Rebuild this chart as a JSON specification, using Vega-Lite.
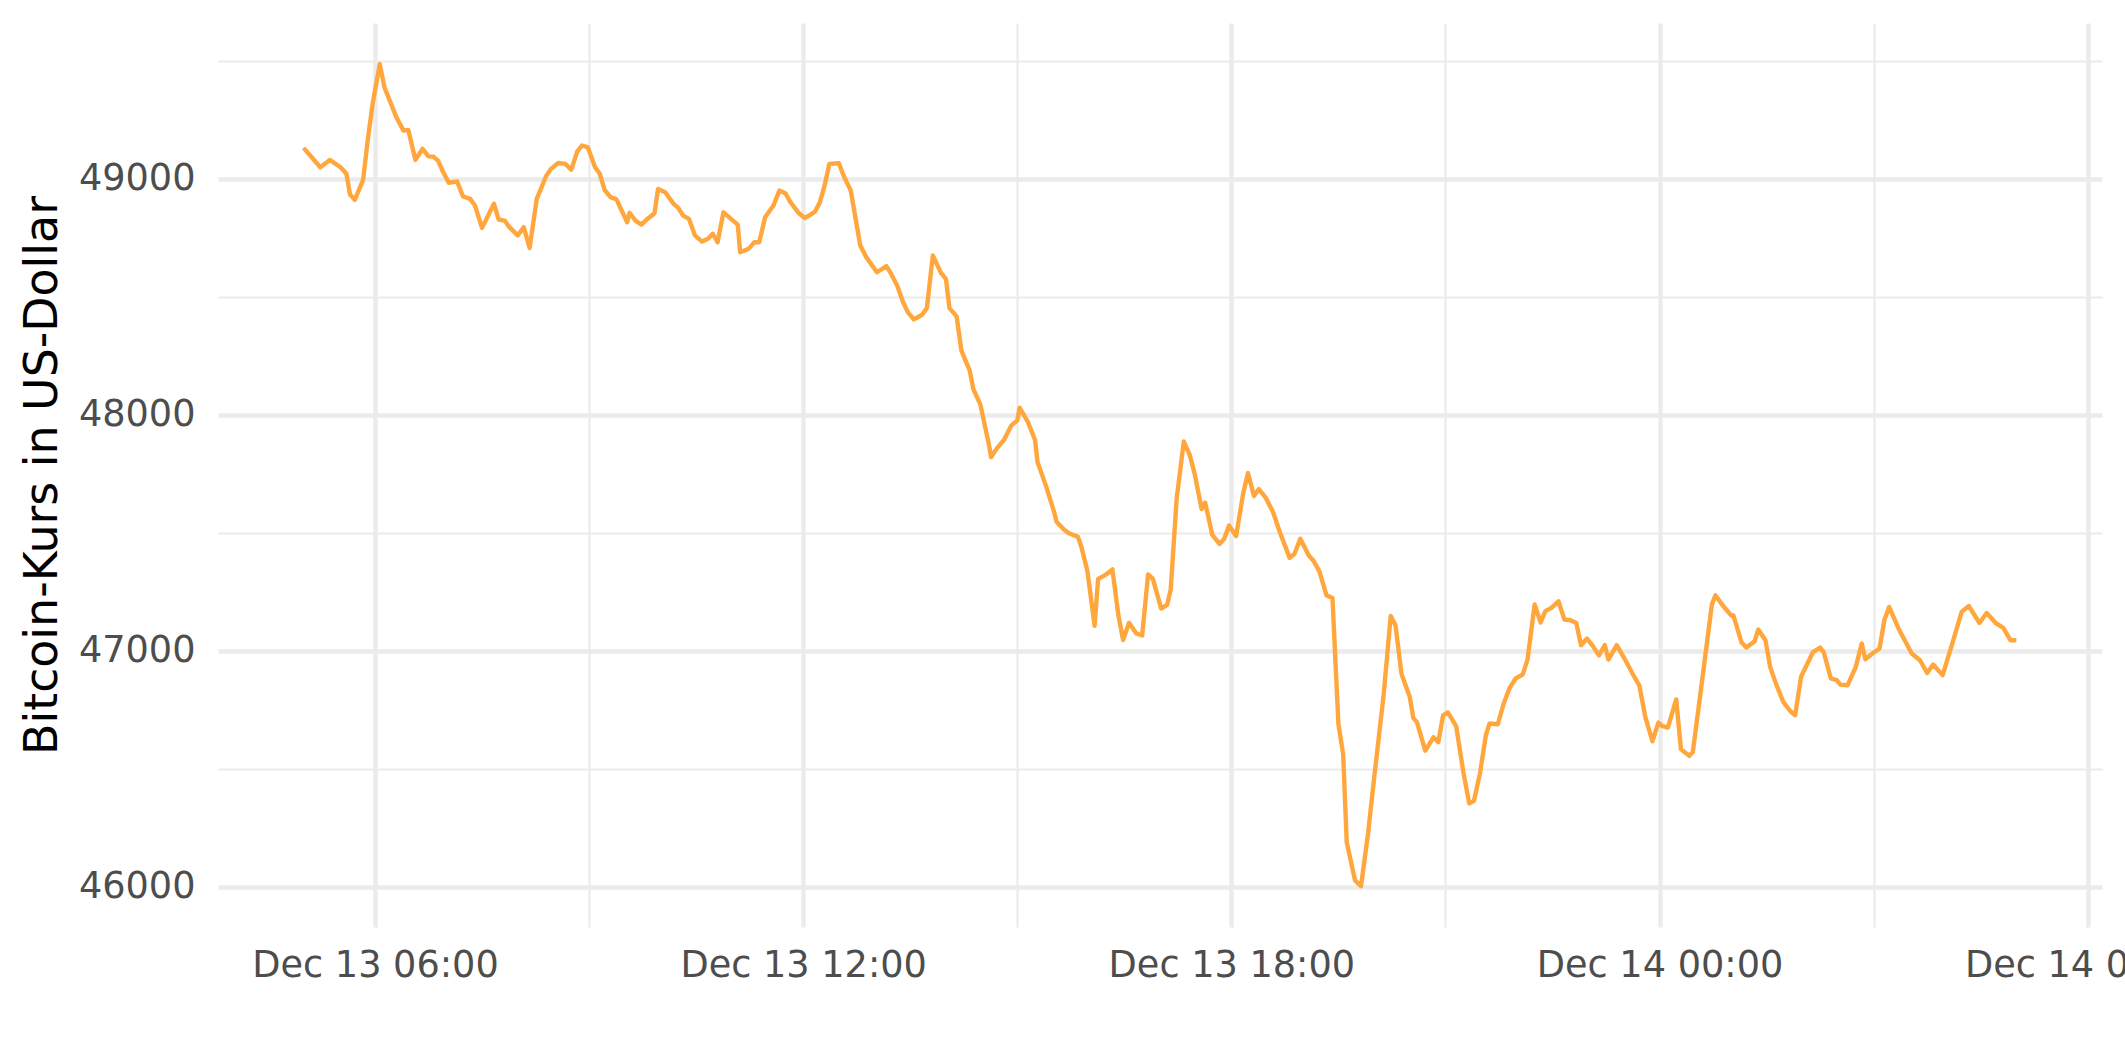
{
  "$schema": "https://vega.github.io/schema/vega-lite/v6.json",
  "width": 1884,
  "height": 904,
  "autosize": {"type": "none"},
  "padding": {"left": 218, "top": 23, "right": 23, "bottom": 135},
  "background": "white",
  "config": {"view": {"stroke": null}, "font": "DejaVu Sans"},
  "data": {"values": [
    {"t": "2021-12-13T05:00", "p": 49131}, {"t": "2021-12-13T05:14", "p": 49049}, {"t": "2021-12-13T05:22", "p": 49080}, {"t": "2021-12-13T05:31", "p": 49049},
    {"t": "2021-12-13T05:36", "p": 49021}, {"t": "2021-12-13T05:39", "p": 48933}, {"t": "2021-12-13T05:43", "p": 48911}, {"t": "2021-12-13T05:50", "p": 48995},
    {"t": "2021-12-13T05:54", "p": 49169}, {"t": "2021-12-13T05:58", "p": 49317}, {"t": "2021-12-13T06:04", "p": 49486}, {"t": "2021-12-13T06:08", "p": 49387},
    {"t": "2021-12-13T06:18", "p": 49260}, {"t": "2021-12-13T06:24", "p": 49204}, {"t": "2021-12-13T06:28", "p": 49207}, {"t": "2021-12-13T06:34", "p": 49080},
    {"t": "2021-12-13T06:40", "p": 49127}, {"t": "2021-12-13T06:45", "p": 49095}, {"t": "2021-12-13T06:49", "p": 49094}, {"t": "2021-12-13T06:53", "p": 49077},
    {"t": "2021-12-13T06:57", "p": 49032}, {"t": "2021-12-13T07:02", "p": 48983}, {"t": "2021-12-13T07:09", "p": 48989}, {"t": "2021-12-13T07:14", "p": 48925},
    {"t": "2021-12-13T07:20", "p": 48915}, {"t": "2021-12-13T07:24", "p": 48887}, {"t": "2021-12-13T07:30", "p": 48792}, {"t": "2021-12-13T07:40", "p": 48894},
    {"t": "2021-12-13T07:44", "p": 48827}, {"t": "2021-12-13T07:49", "p": 48823}, {"t": "2021-12-13T07:53", "p": 48795}, {"t": "2021-12-13T08:00", "p": 48760},
    {"t": "2021-12-13T08:05", "p": 48795}, {"t": "2021-12-13T08:10", "p": 48707}, {"t": "2021-12-13T08:16", "p": 48915}, {"t": "2021-12-13T08:24", "p": 49013},
    {"t": "2021-12-13T08:28", "p": 49042}, {"t": "2021-12-13T08:34", "p": 49067}, {"t": "2021-12-13T08:40", "p": 49063}, {"t": "2021-12-13T08:45", "p": 49038},
    {"t": "2021-12-13T08:50", "p": 49115}, {"t": "2021-12-13T08:54", "p": 49141}, {"t": "2021-12-13T08:59", "p": 49133}, {"t": "2021-12-13T09:05", "p": 49049},
    {"t": "2021-12-13T09:09", "p": 49021}, {"t": "2021-12-13T09:13", "p": 48953}, {"t": "2021-12-13T09:18", "p": 48922}, {"t": "2021-12-13T09:23", "p": 48913},
    {"t": "2021-12-13T09:32", "p": 48816}, {"t": "2021-12-13T09:34", "p": 48856}, {"t": "2021-12-13T09:39", "p": 48823}, {"t": "2021-12-13T09:44", "p": 48806},
    {"t": "2021-12-13T09:49", "p": 48830}, {"t": "2021-12-13T09:55", "p": 48854}, {"t": "2021-12-13T09:58", "p": 48957}, {"t": "2021-12-13T10:04", "p": 48943},
    {"t": "2021-12-13T10:11", "p": 48894}, {"t": "2021-12-13T10:15", "p": 48877}, {"t": "2021-12-13T10:19", "p": 48844}, {"t": "2021-12-13T10:24", "p": 48830},
    {"t": "2021-12-13T10:29", "p": 48760}, {"t": "2021-12-13T10:35", "p": 48734}, {"t": "2021-12-13T10:40", "p": 48746}, {"t": "2021-12-13T10:44", "p": 48767},
    {"t": "2021-12-13T10:48", "p": 48731}, {"t": "2021-12-13T10:53", "p": 48858}, {"t": "2021-12-13T11:00", "p": 48827}, {"t": "2021-12-13T11:05", "p": 48806},
    {"t": "2021-12-13T11:07", "p": 48689}, {"t": "2021-12-13T11:14", "p": 48703}, {"t": "2021-12-13T11:19", "p": 48731}, {"t": "2021-12-13T11:23", "p": 48731},
    {"t": "2021-12-13T11:28", "p": 48837}, {"t": "2021-12-13T11:35", "p": 48887}, {"t": "2021-12-13T11:40", "p": 48950}, {"t": "2021-12-13T11:45", "p": 48939},
    {"t": "2021-12-13T11:49", "p": 48903}, {"t": "2021-12-13T11:56", "p": 48856}, {"t": "2021-12-13T12:01", "p": 48834}, {"t": "2021-12-13T12:04", "p": 48841},
    {"t": "2021-12-13T12:10", "p": 48861}, {"t": "2021-12-13T12:14", "p": 48900}, {"t": "2021-12-13T12:18", "p": 48971}, {"t": "2021-12-13T12:22", "p": 49063},
    {"t": "2021-12-13T12:30", "p": 49066}, {"t": "2021-12-13T12:34", "p": 49013}, {"t": "2021-12-13T12:40", "p": 48950}, {"t": "2021-12-13T12:48", "p": 48717},
    {"t": "2021-12-13T12:53", "p": 48668}, {"t": "2021-12-13T13:02", "p": 48604}, {"t": "2021-12-13T13:10", "p": 48630}, {"t": "2021-12-13T13:14", "p": 48597},
    {"t": "2021-12-13T13:19", "p": 48548}, {"t": "2021-12-13T13:24", "p": 48477}, {"t": "2021-12-13T13:28", "p": 48435}, {"t": "2021-12-13T13:33", "p": 48404},
    {"t": "2021-12-13T13:40", "p": 48424}, {"t": "2021-12-13T13:44", "p": 48452}, {"t": "2021-12-13T13:49", "p": 48675}, {"t": "2021-12-13T13:56", "p": 48600},
    {"t": "2021-12-13T14:00", "p": 48576}, {"t": "2021-12-13T14:03", "p": 48452}, {"t": "2021-12-13T14:09", "p": 48417}, {"t": "2021-12-13T14:13", "p": 48273},
    {"t": "2021-12-13T14:17", "p": 48223}, {"t": "2021-12-13T14:20", "p": 48188}, {"t": "2021-12-13T14:23", "p": 48110}, {"t": "2021-12-13T14:29", "p": 48043},
    {"t": "2021-12-13T14:33", "p": 47948}, {"t": "2021-12-13T14:36", "p": 47878}, {"t": "2021-12-13T14:38", "p": 47821}, {"t": "2021-12-13T14:43", "p": 47859},
    {"t": "2021-12-13T14:49", "p": 47895}, {"t": "2021-12-13T14:55", "p": 47955}, {"t": "2021-12-13T15:00", "p": 47976}, {"t": "2021-12-13T15:02", "p": 48030},
    {"t": "2021-12-13T15:09", "p": 47969}, {"t": "2021-12-13T15:15", "p": 47892}, {"t": "2021-12-13T15:17", "p": 47800}, {"t": "2021-12-13T15:24", "p": 47701},
    {"t": "2021-12-13T15:31", "p": 47588}, {"t": "2021-12-13T15:33", "p": 47547}, {"t": "2021-12-13T15:39", "p": 47515}, {"t": "2021-12-13T15:43", "p": 47499},
    {"t": "2021-12-13T15:51", "p": 47483}, {"t": "2021-12-13T15:54", "p": 47439}, {"t": "2021-12-13T15:59", "p": 47337}, {"t": "2021-12-13T16:05", "p": 47106},
    {"t": "2021-12-13T16:08", "p": 47305}, {"t": "2021-12-13T16:14", "p": 47321}, {"t": "2021-12-13T16:20", "p": 47345}, {"t": "2021-12-13T16:25", "p": 47151},
    {"t": "2021-12-13T16:29", "p": 47046}, {"t": "2021-12-13T16:34", "p": 47119}, {"t": "2021-12-13T16:40", "p": 47074}, {"t": "2021-12-13T16:45", "p": 47065},
    {"t": "2021-12-13T16:50", "p": 47324}, {"t": "2021-12-13T16:54", "p": 47305}, {"t": "2021-12-13T17:01", "p": 47179}, {"t": "2021-12-13T17:06", "p": 47195},
    {"t": "2021-12-13T17:09", "p": 47260}, {"t": "2021-12-13T17:14", "p": 47644}, {"t": "2021-12-13T17:20", "p": 47887}, {"t": "2021-12-13T17:25", "p": 47830},
    {"t": "2021-12-13T17:29", "p": 47753}, {"t": "2021-12-13T17:35", "p": 47601}, {"t": "2021-12-13T17:38", "p": 47628}, {"t": "2021-12-13T17:44", "p": 47491},
    {"t": "2021-12-13T17:50", "p": 47453}, {"t": "2021-12-13T17:54", "p": 47475}, {"t": "2021-12-13T17:58", "p": 47531}, {"t": "2021-12-13T18:04", "p": 47486},
    {"t": "2021-12-13T18:10", "p": 47669}, {"t": "2021-12-13T18:14", "p": 47753}, {"t": "2021-12-13T18:19", "p": 47656}, {"t": "2021-12-13T18:23", "p": 47685},
    {"t": "2021-12-13T18:29", "p": 47648}, {"t": "2021-12-13T18:35", "p": 47588}, {"t": "2021-12-13T18:41", "p": 47499}, {"t": "2021-12-13T18:49", "p": 47394},
    {"t": "2021-12-13T18:53", "p": 47410}, {"t": "2021-12-13T18:58", "p": 47475}, {"t": "2021-12-13T19:05", "p": 47405}, {"t": "2021-12-13T19:09", "p": 47382},
    {"t": "2021-12-13T19:14", "p": 47337}, {"t": "2021-12-13T19:20", "p": 47235}, {"t": "2021-12-13T19:25", "p": 47224}, {"t": "2021-12-13T19:30", "p": 46690},
    {"t": "2021-12-13T19:34", "p": 46561}, {"t": "2021-12-13T19:37", "p": 46189}, {"t": "2021-12-13T19:44", "p": 46027}, {"t": "2021-12-13T19:49", "p": 46003},
    {"t": "2021-12-13T19:55", "p": 46229}, {"t": "2021-12-13T19:59", "p": 46415}, {"t": "2021-12-13T20:08", "p": 46812}, {"t": "2021-12-13T20:14", "p": 47148},
    {"t": "2021-12-13T20:18", "p": 47108}, {"t": "2021-12-13T20:23", "p": 46903}, {"t": "2021-12-13T20:30", "p": 46804}, {"t": "2021-12-13T20:33", "p": 46715},
    {"t": "2021-12-13T20:36", "p": 46698}, {"t": "2021-12-13T20:43", "p": 46577}, {"t": "2021-12-13T20:50", "p": 46634}, {"t": "2021-12-13T20:54", "p": 46613},
    {"t": "2021-12-13T20:58", "p": 46727}, {"t": "2021-12-13T21:02", "p": 46739}, {"t": "2021-12-13T21:09", "p": 46681}, {"t": "2021-12-13T21:15", "p": 46487},
    {"t": "2021-12-13T21:20", "p": 46354}, {"t": "2021-12-13T21:24", "p": 46365}, {"t": "2021-12-13T21:29", "p": 46481}, {"t": "2021-12-13T21:34", "p": 46643},
    {"t": "2021-12-13T21:37", "p": 46692}, {"t": "2021-12-13T21:44", "p": 46689}, {"t": "2021-12-13T21:49", "p": 46777}, {"t": "2021-12-13T21:54", "p": 46843},
    {"t": "2021-12-13T21:59", "p": 46883}, {"t": "2021-12-13T22:05", "p": 46900}, {"t": "2021-12-13T22:09", "p": 46963}, {"t": "2021-12-13T22:15", "p": 47197},
    {"t": "2021-12-13T22:20", "p": 47120}, {"t": "2021-12-13T22:24", "p": 47168}, {"t": "2021-12-13T22:29", "p": 47182}, {"t": "2021-12-13T22:35", "p": 47210},
    {"t": "2021-12-13T22:40", "p": 47133}, {"t": "2021-12-13T22:45", "p": 47130}, {"t": "2021-12-13T22:50", "p": 47118}, {"t": "2021-12-13T22:54", "p": 47024},
    {"t": "2021-12-13T22:59", "p": 47052}, {"t": "2021-12-13T23:04", "p": 47020}, {"t": "2021-12-13T23:09", "p": 46981}, {"t": "2021-12-13T23:14", "p": 47024},
    {"t": "2021-12-13T23:17", "p": 46963}, {"t": "2021-12-13T23:24", "p": 47024}, {"t": "2021-12-13T23:31", "p": 46963}, {"t": "2021-12-13T23:37", "p": 46906},
    {"t": "2021-12-13T23:43", "p": 46854}, {"t": "2021-12-13T23:48", "p": 46720}, {"t": "2021-12-13T23:54", "p": 46617}, {"t": "2021-12-13T23:59", "p": 46696},
    {"t": "2021-12-14T00:02", "p": 46682}, {"t": "2021-12-14T00:07", "p": 46675}, {"t": "2021-12-14T00:14", "p": 46794}, {"t": "2021-12-14T00:18", "p": 46583},
    {"t": "2021-12-14T00:25", "p": 46555}, {"t": "2021-12-14T00:28", "p": 46572}, {"t": "2021-12-14T00:36", "p": 46883}, {"t": "2021-12-14T00:44", "p": 47197},
    {"t": "2021-12-14T00:47", "p": 47235}, {"t": "2021-12-14T00:53", "p": 47193}, {"t": "2021-12-14T01:00", "p": 47151}, {"t": "2021-12-14T01:02", "p": 47151},
    {"t": "2021-12-14T01:09", "p": 47035}, {"t": "2021-12-14T01:13", "p": 47014}, {"t": "2021-12-14T01:20", "p": 47041}, {"t": "2021-12-14T01:23", "p": 47090},
    {"t": "2021-12-14T01:29", "p": 47045}, {"t": "2021-12-14T01:33", "p": 46932}, {"t": "2021-12-14T01:38", "p": 46859}, {"t": "2021-12-14T01:44", "p": 46784},
    {"t": "2021-12-14T01:50", "p": 46744}, {"t": "2021-12-14T01:54", "p": 46727}, {"t": "2021-12-14T01:59", "p": 46890}, {"t": "2021-12-14T02:09", "p": 46995},
    {"t": "2021-12-14T02:15", "p": 47014}, {"t": "2021-12-14T02:18", "p": 46995}, {"t": "2021-12-14T02:24", "p": 46883}, {"t": "2021-12-14T02:29", "p": 46876},
    {"t": "2021-12-14T02:32", "p": 46857}, {"t": "2021-12-14T02:38", "p": 46854}, {"t": "2021-12-14T02:45", "p": 46932}, {"t": "2021-12-14T02:50", "p": 47031},
    {"t": "2021-12-14T02:53", "p": 46964}, {"t": "2021-12-14T02:59", "p": 46989}, {"t": "2021-12-14T03:05", "p": 47010}, {"t": "2021-12-14T03:09", "p": 47130},
    {"t": "2021-12-14T03:13", "p": 47186}, {"t": "2021-12-14T03:21", "p": 47094}, {"t": "2021-12-14T03:32", "p": 46989}, {"t": "2021-12-14T03:39", "p": 46960},
    {"t": "2021-12-14T03:45", "p": 46906}, {"t": "2021-12-14T03:50", "p": 46942}, {"t": "2021-12-14T03:58", "p": 46897}, {"t": "2021-12-14T04:07", "p": 47045},
    {"t": "2021-12-14T04:14", "p": 47165}, {"t": "2021-12-14T04:20", "p": 47190}, {"t": "2021-12-14T04:29", "p": 47118}, {"t": "2021-12-14T04:35", "p": 47160},
    {"t": "2021-12-14T04:43", "p": 47116}, {"t": "2021-12-14T04:49", "p": 47097}, {"t": "2021-12-14T04:55", "p": 47045}, {"t": "2021-12-14T05:00", "p": 47045}
  ]},
  "mark": {"type": "line", "color": "#FFA73C", "strokeWidth": 4.4, "strokeJoin": "round", "strokeCap": "butt"},
  "encoding": {
    "x": {
      "field": "t", "type": "temporal",
      "scale": {"domain": [{"year": 2021, "month": 12, "date": 13, "hours": 3, "minutes": 48}, {"year": 2021, "month": 12, "date": 14, "hours": 6, "minutes": 12}]},
      "axis": {
        "title": null, "domain": false, "ticks": false,
        "values": [
          {"year": 2021, "month": 12, "date": 13, "hours": 6}, {"year": 2021, "month": 12, "date": 13, "hours": 9},
          {"year": 2021, "month": 12, "date": 13, "hours": 12}, {"year": 2021, "month": 12, "date": 13, "hours": 15},
          {"year": 2021, "month": 12, "date": 13, "hours": 18}, {"year": 2021, "month": 12, "date": 13, "hours": 21},
          {"year": 2021, "month": 12, "date": 14, "hours": 0}, {"year": 2021, "month": 12, "date": 14, "hours": 3},
          {"year": 2021, "month": 12, "date": 14, "hours": 6}
        ],
        "labelExpr": "hours(datum.value) % 6 === 0 ? timeFormat(datum.value, '%b %d %H:%M') : ''",
        "labelFont": "DejaVu Sans", "labelFontSize": 36.67, "labelColor": "#4D4D4D", "labelPadding": 20,
        "labelLimit": 0, "labelFlush": false, "labelOverlap": false, "labelBound": false,
        "gridColor": "#EBEBEB",
        "gridWidth": {"condition": {"test": "hours(datum.value) % 6 === 0", "value": 4.4}, "value": 2.2}
      }
    },
    "y": {
      "field": "p", "type": "quantitative",
      "scale": {"domain": [45830, 49660], "nice": false, "zero": false},
      "axis": {
        "title": "Bitcoin-Kurs in US-Dollar", "domain": false, "ticks": false,
        "values": [46000, 46500, 47000, 47500, 48000, 48500, 49000, 49500],
        "labelExpr": "datum.value % 1000 === 0 ? format(datum.value, 'd') : ''",
        "labelFont": "DejaVu Sans", "labelFontSize": 36.67, "labelColor": "#4D4D4D", "labelPadding": 23,
        "labelOverlap": false, "labelLimit": 0,
        "titleFont": "DejaVu Sans", "titleFontSize": 45.83, "titleFontWeight": "normal", "titleColor": "#000000", "titlePadding": 12,
        "gridColor": "#EBEBEB",
        "gridWidth": {"condition": {"test": "datum.value % 1000 === 0", "value": 4.4}, "value": 2.2}
      }
    }
  }
}
